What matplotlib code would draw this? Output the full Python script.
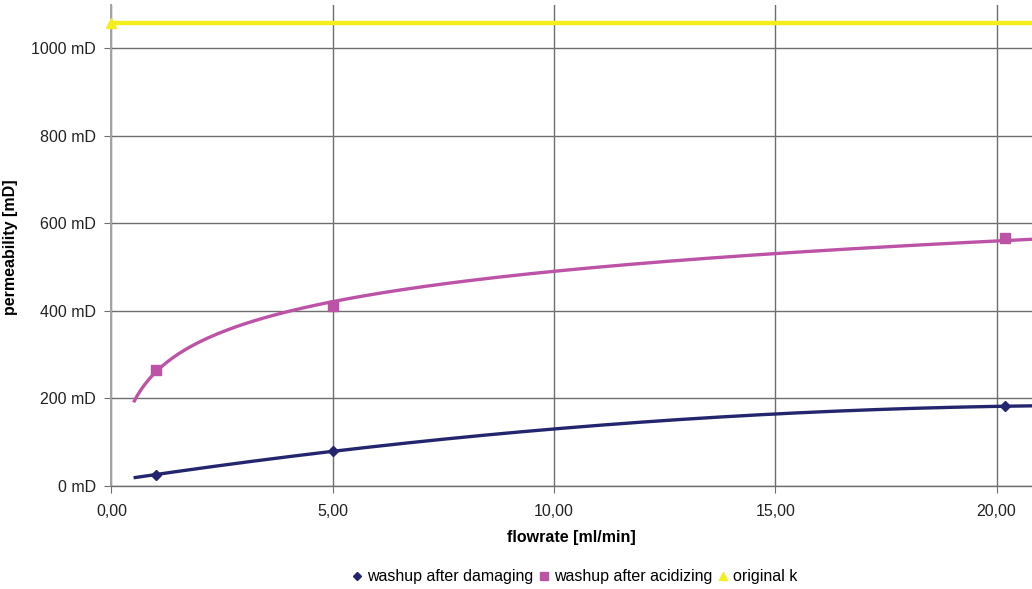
import numpy as np
import matplotlib
matplotlib.use("Agg")
import matplotlib.pyplot as plt
from matplotlib.ticker import FuncFormatter, MultipleLocator

plt.rcParams['font.family'] = ['Liberation Sans', 'DejaVu Sans']

# data
flow_damaging = [1.0, 5.0, 20.2]
perm_damaging = [26, 79, 182]
flow_acidizing = [1.0, 5.0, 20.2]
perm_acidizing = [265, 410, 566]
flow_original = [0.0]
perm_original = [1057]

labels = ["washup after damaging", "washup after acidizing", "original k"]
c_dam = "#24256f"
c_acid = "#bd53a6"
c_orig = "#f3ee1c"

XMAX = 20.8
YMAX = 1098

fig = plt.figure(figsize=(10.32, 5.89), dpi=100)
ax = fig.add_axes([0.108, 0.175, 0.892, 0.8165])

# trend lines (Excel-like): polynomial for damaging, log for acidizing, constant for original
xs = np.linspace(0.5, XMAX, 300)
p = np.polyfit(flow_damaging, perm_damaging, 2)
ax.plot(xs, np.polyval(p, xs), color=c_dam, lw=2.4, zorder=3, solid_capstyle='butt')
q = np.polyfit(np.log(flow_acidizing), perm_acidizing, 1)
ax.plot(xs, np.polyval(q, np.log(xs)), color=c_acid, lw=2.4, zorder=3, solid_capstyle='butt')
ax.axhline(perm_original[0], color=c_orig, lw=3.2, zorder=3)

# markers
ax.plot(flow_damaging, perm_damaging, ls='none', marker='D', ms=5.5, color=c_dam, label=labels[0], zorder=4)
ax.plot(flow_acidizing, perm_acidizing, ls='none', marker='s', ms=7, color=c_acid, label=labels[1], zorder=4)
ax.plot(flow_original, perm_original, ls='none', marker='^', ms=7, color=c_orig, label=labels[2], zorder=4, clip_on=False)

ax.set_xlim(0, XMAX)
ax.set_ylim(0, YMAX)
ax.xaxis.set_major_locator(MultipleLocator(5))
ax.yaxis.set_major_locator(MultipleLocator(200))
ax.xaxis.set_major_formatter(FuncFormatter(lambda v, _: f"{v:.2f}".replace('.', ',')))
ax.yaxis.set_major_formatter(FuncFormatter(lambda v, _: f"{int(v)} mD"))

ax.grid(True, color="#6e6e6e", lw=1.0)
ax.set_axisbelow(True)
for s in ['top', 'right']:
    ax.spines[s].set_visible(False)
ax.spines['left'].set_color("#a3a3a3")
ax.spines['left'].set_linewidth(1.4)
ax.spines['bottom'].set_color("#6e6e6e")
ax.spines['bottom'].set_linewidth(1.0)
ax.tick_params(axis='both', direction='out', length=5, color="#6e6e6e", labelsize=11.5, labelcolor="#222222", pad=6)
ax.tick_params(axis='x', pad=8)

ax.set_xlabel("flowrate [ml/min]", fontsize=11.5, fontweight='bold', labelpad=8)
ax.set_ylabel("permeability [mD]", fontsize=11.5, fontweight='bold')
ax.yaxis.set_label_coords(-0.102, 0.497)

fig.legend(loc='center', bbox_to_anchor=(0.557, 0.021), ncol=3, frameon=False,
           fontsize=11.5, handlelength=0.6, handletextpad=0.3, columnspacing=0.4, markerscale=0.8)

fig.savefig("out.png", dpi=100)
